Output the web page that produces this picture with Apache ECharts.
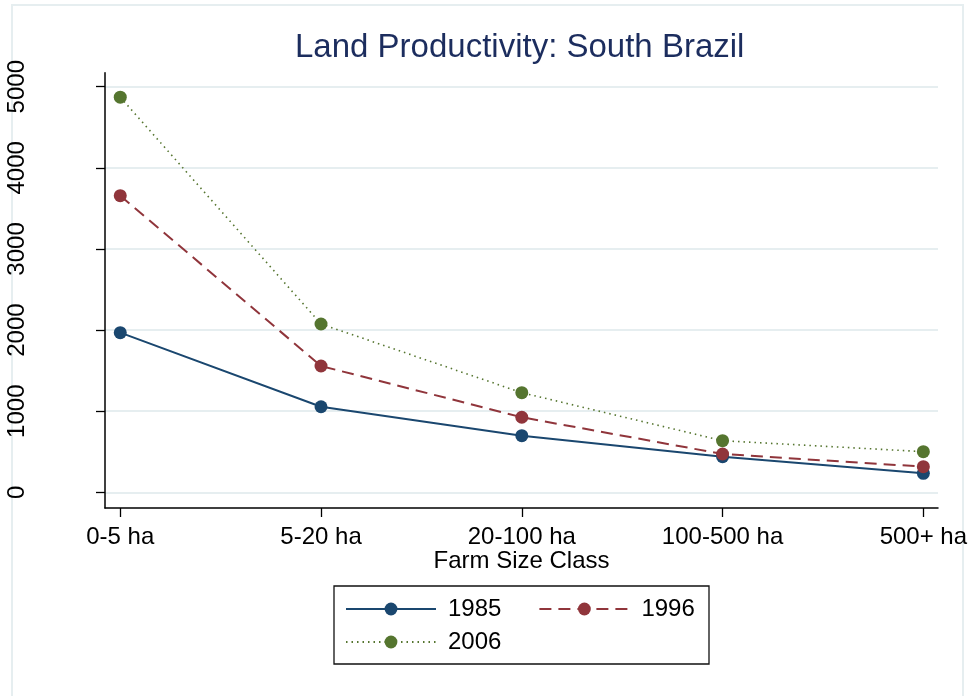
<!DOCTYPE html>
<html><head><meta charset="utf-8">
<script src="https://cdn.jsdelivr.net/npm/echarts@6/dist/echarts.min.js"></script>
<style>html,body{margin:0;padding:0;background:#fff}#c{width:972px;height:696px}</style>
</head><body><div id="c"></div>
<script>
const categories = ['0-5 ha', '5-20 ha', '20-100 ha', '100-500 ha', '500+ ha'];
const v1985 = [1968, 1055, 698, 439, 234];
const v1996 = [3657, 1557, 925, 472, 316];
const v2006 = [4871, 2075, 1228, 636, 501];
const yTicks = [0, 1000, 2000, 3000, 4000, 5000];
const seriesNames = ['1985', '1996', '2006'];

const FONT = '"Liberation Sans", Arial, Helvetica, sans-serif';
const colors = ['#1a476f', '#90353b', '#55752f'];
const toPts = arr => arr.map((v, i) => [i, v]);
const xIdx = categories.map((c, i) => i);

const chart = echarts.init(document.getElementById('c'), null, {renderer: 'canvas'});
const option = {
  animation: false,
  backgroundColor: '#ffffff',
  title: {
    text: 'Land Productivity: South Brazil',
    left: 295, top: 31, padding: 0,
    textStyle: {fontFamily: FONT, fontSize: 33, fontWeight: 'normal', color: '#1c2d5e'}
  },
  graphic: [
    {type: 'rect', shape: {x: 12, y: 5, width: 951, height: 700}, style: {fill: null, stroke: '#e6eef0', lineWidth: 2}, z: -1},
    {type: 'rect', shape: {x: 334, y: 586, width: 375, height: 78}, style: {fill: '#fff', stroke: '#111', lineWidth: 1.3}, z: 0}
  ],
  grid: {left: 105, right: 34, top: 72.7, bottom: 188, containLabel: false},
  xAxis: {
    type: 'value', min: -0.076, max: 4.073,
    name: 'Farm Size Class', nameLocation: 'middle', nameGap: 41, nameMoveOverlap: false,
    nameTextStyle: {fontFamily: FONT, fontSize: 24, color: '#000'},
    axisLine: {show: true, onZero: false, lineStyle: {color: '#000', width: 1.5}},
    axisTick: {show: true, length: 9, customValues: xIdx, lineStyle: {color: '#000', width: 1.3}},
    axisLabel: {customValues: xIdx, margin: 17, fontFamily: FONT, fontSize: 24, color: '#000',
      formatter: v => categories[Math.round(v)]},
    splitLine: {show: false}
  },
  yAxis: {
    type: 'value', min: -193.5, max: 5172.6,
    axisLine: {show: true, onZero: false, lineStyle: {color: '#000', width: 1.5}},
    axisTick: {show: true, length: 9, customValues: yTicks, lineStyle: {color: '#000', width: 1.3}},
    axisLabel: {customValues: yTicks, rotate: 90, margin: 76, fontFamily: FONT, fontSize: 24, color: '#000',
      formatter: v => String(Math.round(v))},
    splitLine: {show: true, lineStyle: {color: '#e6eef0', width: 2}}
  },
  legend: [
    {data: ['1985', '1996'], left: 345, top: 597, itemWidth: 90, itemHeight: 16, itemGap: 37, padding: 0,
      textStyle: {fontFamily: FONT, fontSize: 24, color: '#000', padding: [2, 0, 0, 7]}},
    {data: ['2006'], left: 345, top: 630, itemWidth: 90, itemHeight: 16, itemGap: 37, padding: 0,
      textStyle: {fontFamily: FONT, fontSize: 24, color: '#000', padding: [2, 0, 0, 7]}}
  ],
  series: [
    {name: seriesNames[0], type: 'line', data: toPts(v1985), symbol: 'circle', symbolSize: 13,
      itemStyle: {color: colors[0]}, lineStyle: {color: colors[0], width: 2, type: 'solid'}, z: 3},
    {name: seriesNames[1], type: 'line', data: toPts(v1996), symbol: 'circle', symbolSize: 13,
      itemStyle: {color: colors[1]}, lineStyle: {color: colors[1], width: 2, type: [12, 7]}, z: 4},
    {name: seriesNames[2], type: 'line', data: toPts(v2006), symbol: 'circle', symbolSize: 13,
      itemStyle: {color: colors[2]}, lineStyle: {color: colors[2], width: 1.6, type: [1.5, 4]}, z: 5}
  ]
};
chart.setOption(option);
</script></body></html>
